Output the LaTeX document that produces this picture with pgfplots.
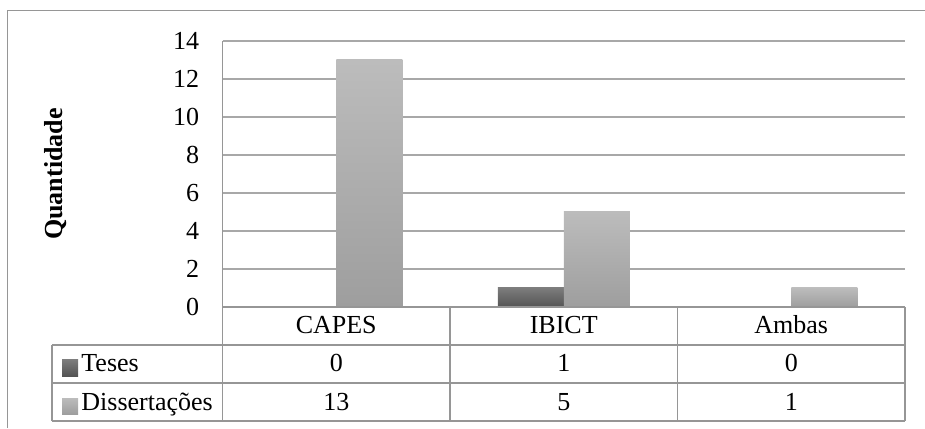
\documentclass[border=0pt]{standalone}
\usepackage{pgfplots}
\usepackage{pgfplotstable}
\pgfplotsset{compat=1.18}
\usepackage{fontspec}
\setmainfont{Liberation Serif}

\definecolor{lightTop}{RGB}{188,188,188}
\definecolor{lightBot}{RGB}{158,158,158}
\definecolor{darkTop}{RGB}{124,124,124}
\definecolor{darkBot}{RGB}{84,84,84}
\definecolor{rule}{RGB}{150,150,150}
\definecolor{gridc}{RGB}{168,168,168}

\pgfplotstableread{
idx cat   teses diss
0   CAPES 0     13
1   IBICT 1     5
2   Ambas 0     1
}\dados

\newcommand{\chartfont}{\fontsize{13}{15}\selectfont}

\begin{document}
\begin{tikzpicture}
\begin{axis}[
  at={(111.25pt,60.5pt)}, anchor=south west,
  scale only axis, width=341.25pt, height=133pt,
  xmin=-0.5, xmax=2.5, ymin=0, ymax=14,
  ytick={0,2,...,14},
  xtick={0,1,2},
  xticklabels from table={\dados}{cat},
  major tick length=0pt,
  axis line style={draw=none},
  ymajorgrids, grid style={gridc, line width=0.6pt},
  tick label style={font=\chartfont},
  /pgf/number format/assume math mode=true,
  yticklabel style={anchor=east, inner sep=0pt, xshift=-11.5pt},
  xticklabel style={anchor=base, inner sep=0pt, yshift=-13.5pt},
  ylabel={Quantidade},
  every axis y label/.style={at={(axis description cs:-0.244,0.5)}, rotate=90, anchor=center, font=\chartfont\bfseries},
  clip=false,
]
% one plot per category, so that each bar gets its own vertical gradient
\pgfplotsinvokeforeach{0,1,2}{
  \addplot[ybar, bar width=33pt, bar shift=-16.5pt, draw=none,
    top color=darkTop, bottom color=darkBot, forget plot,
    restrict x to domain=#1:#1] table[x=idx, y=teses] {\dados};
  \addplot[ybar, bar width=33pt, bar shift=16.5pt, draw=none,
    top color=lightTop, bottom color=lightBot, forget plot,
    restrict x to domain=#1:#1] table[x=idx, y=diss] {\dados};
}
\end{axis}

% outer frame
\draw[rule, line width=0.5pt] (3.5pt,0pt) -- (3.5pt,208.5pt) -- (462.5pt,208.5pt);

% data table below the plot
\begin{scope}[rule, line width=0.6pt]
  \draw (111.25pt,193.5pt) -- (111.25pt,3.5pt);
  \draw (111.25pt,60.5pt) -- (452.5pt,60.5pt);
  \draw (26pt,41.5pt) -- (452.5pt,41.5pt);
  \draw (26pt,22.5pt) -- (452.5pt,22.5pt);
  \draw (26pt,3.5pt) -- (452.5pt,3.5pt);
  \draw (26pt,41.5pt) -- (26pt,3.5pt);
  \draw (225pt,60.5pt) -- (225pt,3.5pt);
  \draw (338.75pt,60.5pt) -- (338.75pt,3.5pt);
  \draw (452.5pt,60.5pt) -- (452.5pt,3.5pt);
\end{scope}

% legend keys and row names
\shade[top color=darkTop, bottom color=darkBot] (31pt,26pt) rectangle (39pt,34pt);
\shade[top color=lightTop, bottom color=lightBot] (31pt,7pt) rectangle (39pt,15pt);
\node[anchor=base west, inner sep=0pt, font=\chartfont] at (40.5pt,28pt) {Teses};
\node[anchor=base west, inner sep=0pt, font=\chartfont] at (40.5pt,9pt) {Dissertações};

% values in the table cells
\foreach \i in {0,1,2} {
  \pgfmathsetmacro{\cx}{168.125+113.75*\i}
  \pgfplotstablegetelem{\i}{teses}\of\dados
  \node[anchor=base, inner sep=0pt, font=\chartfont] at (\cx pt,28pt) {\pgfplotsretval};
  \pgfplotstablegetelem{\i}{diss}\of\dados
  \node[anchor=base, inner sep=0pt, font=\chartfont] at (\cx pt,9pt) {\pgfplotsretval};
}

\pgfresetboundingbox
\useasboundingbox (0pt,0pt) rectangle (462.5pt,214pt);
\end{tikzpicture}
\end{document}
